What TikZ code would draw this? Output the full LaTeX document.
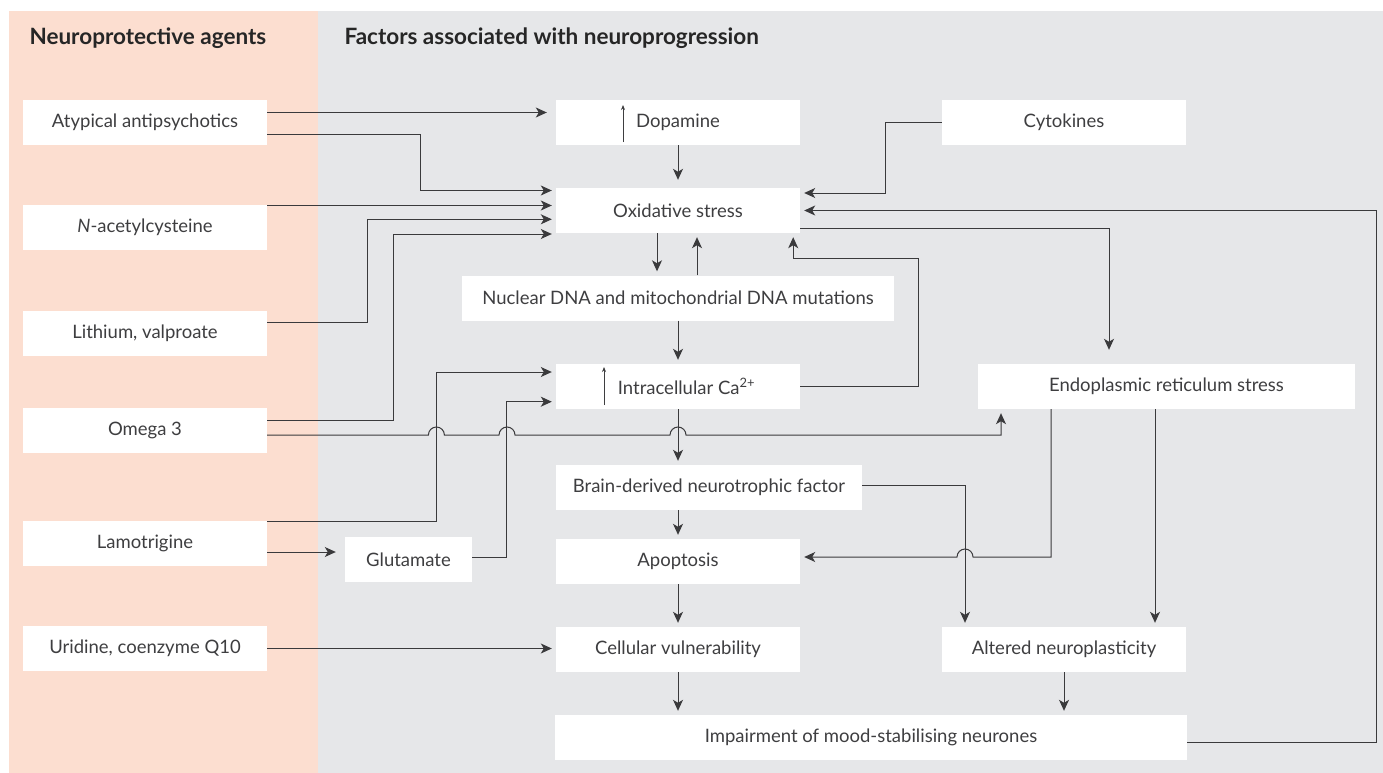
\documentclass[tikz,border=0pt]{standalone}
\usepackage{fontspec}
\setmainfont{Lato}
\usetikzlibrary{arrows.meta,positioning,calc}
\definecolor{peachbg}{RGB}{252,222,208}
\definecolor{greybg}{RGB}{230,231,233}
\definecolor{linegrey}{RGB}{58,58,60}
\definecolor{textgrey}{RGB}{62,62,64}

\begin{document}
\begin{tikzpicture}[x=1pt, y=-1pt,
            box/.style={fill=white, minimum width=244pt, minimum height=45pt, inner sep=0pt,
                        font=\fontsize{18.5}{22}\selectfont, text=textgrey},
            header/.style={anchor=base west, font=\fontsize{22.5}{26}\selectfont\bfseries, text=black!85},
            link/.style={draw=linegrey, line width=1pt},
            arr/.style={link, -{Stealth[length=11pt,width=10pt,inset=3pt]}, shorten >=4pt},
            uparr/.style={draw=textgrey, line width=0.8pt, -{Stealth[length=5pt,width=4pt]}}
        ]
            \useasboundingbox (0,0) rectangle (1383,773);

            % Panels
            \fill [peachbg] (9,11) rectangle (318,773);
            \fill [greybg] (318,11) rectangle (1383,773);
            \node [header] (hagents) at (26,45) {Neuroprotective agents};
            \node [header] (hfactors) at (341,45) {Factors associated with neuroprogression};

            % Neuroprotective agents
            \node [box] (aap) at (145,122.5) {Atypical antipsychotics};
            \node [box] (nac) at (145,227.5) {\textit{N}-acetylcysteine};
            \node [box] (lith) at (145,333.5) {Lithium, valproate};
            \node [box] (omega) at (145,430.5) {Omega 3};
            \node [box] (lamo) at (145,543.5) {Lamotrigine};
            \node [box] (urid) at (145,648.5) {Uridine, coenzyme Q10};

            % Factors
            \node [box] (dopa) at (678,122.5) {Dopamine};
            \node [box] (cyto) at (1064,122.5) {Cytokines};
            \node [box] (oxid) at (678,210.5) {Oxidative stress};
            \node [box, minimum width=432pt] (dna) at (678,298) {Nuclear DNA and mitochondrial DNA mutations};
            \node [box] (calc) at (678,386.5) {\hspace*{17pt}Intracellular Ca\textsuperscript{2+}};
            \node [box, minimum width=377pt] (er) at (1166.5,386.5) {Endoplasmic reticulum stress};
            \node [box, minimum width=127pt] (glut) at (408.5,559.5) {Glutamate};
            \node [box, minimum width=306pt] (bdnf) at (709,487.5) {Brain-derived neurotrophic factor};
            \node [box] (apop) at (678,561.5) {Apoptosis};
            \node [box] (cell) at (678,649.5) {Cellular vulnerability};
            \node [box] (alter) at (1064,649.5) {Altered neuroplasticity};
            \node [box, minimum width=632pt] (impair) at (871,737.5) {Impairment of mood-stabilising neurones};

            % Increase marks
            \draw [uparr] ([xshift=-55pt,yshift=-19.5pt]dopa.center) -- ([xshift=-55pt,yshift=17.5pt]dopa.center);
            \draw [uparr] ([xshift=-74pt,yshift=-18.5pt]calc.center) -- ([xshift=-74pt,yshift=19.5pt]calc.center);

            % Agents to factors
            \draw [arr, shorten >=9pt] ([yshift=10pt]aap.east) -- ([yshift=10pt]dopa.west);
            \draw [arr] ([yshift=-11.5pt]aap.east) -| ([xshift=-135pt,yshift=20pt]oxid.west) -- ([yshift=20pt]oxid.west);
            \draw [arr] ([yshift=22pt]nac.east) -- ([yshift=5pt]oxid.west);
            \draw [arr] ([yshift=11.5pt]lith.east) -| ([xshift=-188.7pt,yshift=-8.8pt]oxid.west) -- ([yshift=-8.8pt]oxid.west);
            \draw [arr] ([yshift=10.5pt]omega.east) -| ([xshift=-162.5pt,yshift=-23.5pt]oxid.west) -- ([yshift=-23.5pt]oxid.west);
            \draw [arr] ([yshift=-4.5pt]omega.east) -- (428.4,435) arc [start angle=180, end angle=0, radius=8pt]
                         -- (499,435) arc [start angle=180, end angle=0, radius=8pt]
                         -- (670,435) arc [start angle=180, end angle=0, radius=8pt]
                         -- (1001,435) -- ([xshift=-165.5pt]er.south);
            \draw [arr] ([yshift=22pt]lamo.east) -| ([xshift=-119.6pt,yshift=14.5pt]calc.west) -- ([yshift=14.5pt]calc.west);
            \draw [arr, shorten >=9pt] ([yshift=-8.5pt]lamo.east) -- ([yshift=7.5pt]glut.west);
            \draw [arr] ([yshift=2pt]glut.east) -| ([xshift=-49pt,yshift=-15.2pt]calc.west) -- ([yshift=-15.2pt]calc.west);
            \draw [arr] (urid.east) -- (urid.east -| cell.west);

            % Between factors
            \draw [arr, shorten >=8pt] (dopa.south) -- (oxid.north);
            \draw [arr] ([xshift=-21pt]oxid.south) -- ([xshift=-21pt]dna.north);
            \draw [arr] ([xshift=19pt]dna.north) -- ([xshift=19pt]oxid.south);
            \draw [arr] (dna.south) -- (calc.north);
            \draw [arr] (calc.east) -- ++(118,0) |- ([xshift=-7pt,yshift=-25pt]oxid.south east) -- ([xshift=-7pt]oxid.south east);
            \draw [arr] (cyto.west) -| ([xshift=85pt,yshift=17.5pt]oxid.east) -- ([yshift=17.5pt]oxid.east);
            \draw [arr, shorten >=14pt] ([yshift=-17.5pt]oxid.east) -| ([xshift=-57.5pt]er.north);
            \draw [arr] ([yshift=-5pt]impair.east) -- ++(189,0) |- (oxid.east);
            \draw [arr] (calc.south) -- (calc.south |- bdnf.north);
            \draw [arr] (apop.north |- bdnf.south) -- (apop.north);
            \draw [arr] ([yshift=2.5pt]bdnf.east) -| ([xshift=-99pt]alter.north);
            \draw [arr] ([xshift=-115.5pt]er.south) |- (973,557) arc [start angle=0, end angle=180, radius=8pt]
                         -- ([yshift=4.5pt]apop.east);
            \draw [arr] ([xshift=-11.5pt]er.south) -- ([xshift=91pt]alter.north);
            \draw [arr] (apop.south) -- (cell.north);
            \draw [arr] (cell.south) -- (cell.south |- impair.north);
            \draw [arr] (alter.south) -- (alter.south |- impair.north);
        \end{tikzpicture}
\end{document}
